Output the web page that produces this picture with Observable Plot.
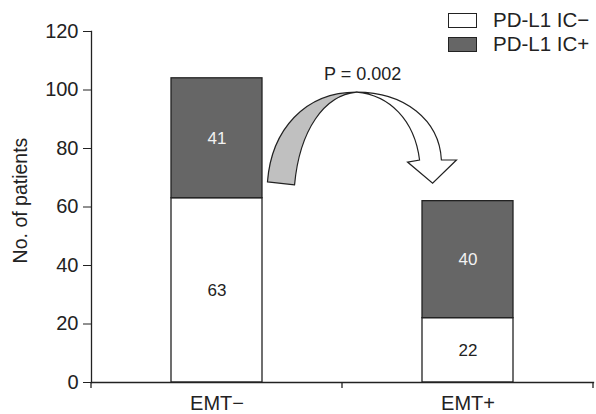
<!DOCTYPE html>
<html><head><meta charset="utf-8">
<script src="https://cdn.jsdelivr.net/npm/d3@7"></script>
<script src="https://cdn.jsdelivr.net/npm/@observablehq/plot@0.6"></script>
<style>
body{margin:0;background:#fff;font-family:"Liberation Sans",Arial,sans-serif;}
#wrap{position:relative;width:596px;height:414px;}
.legend{position:absolute;left:448px;top:8px;font-size:20.5px;color:#222;}
.legend .row{display:flex;align-items:center;height:24px;}
.legend .sw{width:29px;height:15px;border:1.4px solid #222;margin-right:16px;box-sizing:border-box;}
</style></head><body><div id="wrap"></div>
<script>
const groups = ["EMT−", "EMT+"];
const statuses = ["PD-L1 IC−", "PD-L1 IC+"];
const negCounts = [63, 22];
const posCounts = [41, 40];
const yTicks = [0, 20, 40, 60, 80, 100, 120];
const yLabel = "No. of patients";
const pLabel = "P = 0.002";
const colors = ["#ffffff", "#666666"];
const arrowGray = "#c0c0c0";
const ink = "#222222";

const data = groups.flatMap((g, i) => [
  {group: g, status: statuses[0], count: negCounts[i]},
  {group: g, status: statuses[1], count: posCounts[i]}
]);

const W = 596, H = 414, mL = 91, mR = 3, mT = 31, mB = 32;
const barInset = 80;
const FF = "'Liberation Sans', Arial, sans-serif";
const FS = 20;

const plot = Plot.plot({
  width: W, height: H,
  marginLeft: mL, marginRight: mR, marginTop: mT, marginBottom: mB,
  style: {fontFamily: FF, fontSize: "17px", color: ink, background: "white"},
  x: {domain: groups, paddingInner: 0, paddingOuter: 0},
  y: {domain: [0, 120], ticks: yTicks},
  color: {domain: statuses, range: colors},
  marks: [
    Plot.barY(data, {x: "group", y: "count", fill: "status", stroke: ink, strokeWidth: 1.3, insetLeft: barInset, insetRight: barInset, order: statuses}),
    Plot.text(data, Plot.stackY({x: "group", y: "count", text: "count", z: "status", order: statuses, fill: (d) => d.status === statuses[1] ? "#f2f2f2" : ink, fontSize: 17})),
    Plot.axisY({ticks: yTicks, tickSize: 8, tickPadding: 5, label: null}),
    Plot.axisX({tickSize: 0, tickPadding: 13, label: null}),
    Plot.frame({anchor: "left", stroke: ink, strokeWidth: 1.3}),
    Plot.frame({anchor: "bottom", stroke: ink, strokeWidth: 1.3})
  ]
});

const svg = d3.select(plot);
svg.selectAll('g[aria-label="y-axis tick label"], g[aria-label="x-axis tick label"]')
  .style("font-size", FS + "px").attr("font-size", FS)
  .selectAll("text").style("font-size", FS + "px");
const sx = plot.scale("x"), sy = plot.scale("y");
const bw = sx.bandwidth;
const c0 = sx.apply(groups[0]) + bw / 2, c1 = sx.apply(groups[1]) + bw / 2;
const px = (u) => c0 + u * (c1 - c0);
const py = (v) => sy.apply(v);

// y-axis title
svg.append("text")
  .attr("transform", `translate(27,${py(60) - 6}) rotate(-90)`)
  .attr("text-anchor", "middle").style("font-size", "19.5px").style("font-family", FF).attr("fill", ink).text(yLabel);

// band-edge ticks on x axis
const edges = [sx.apply(groups[0]), sx.apply(groups[1]), sx.apply(groups[1]) + bw];
svg.append("g").selectAll("line").data(edges).join("line")
  .attr("x1", d => d).attr("x2", d => d)
  .attr("y1", py(0)).attr("y2", py(0) + 6)
  .attr("stroke", ink).attr("stroke-width", 1.3);

// curved arrow (u: fraction between group centers, v: data units)
const P = [0.558, 99.1];
const pt = (a) => `${px(a[0])},${py(a[1])}`;
const grayPath = `M${pt([0.203,68.4])} C${pt([0.219,86.2])} ${pt([0.351,99.1])} ${pt(P)} C${pt([0.430,98.1])} ${pt([0.331,86.2])} ${pt([0.311,67.4])} Z`;
const whitePath = `M${pt(P)} C${pt([0.749,99.1])} ${pt([0.888,89.6])} ${pt([0.896,75.9])} L${pt([0.956,75.9])} L${pt([0.861,68.0])} L${pt([0.761,75.2])} L${pt([0.809,75.9])} C${pt([0.789,89.6])} ${pt([0.689,98.1])} ${pt(P)} Z`;
const ag = svg.append("g");
ag.append("path").attr("d", grayPath).attr("fill", arrowGray).attr("stroke", ink).attr("stroke-width", 1.2).attr("stroke-linejoin", "round");
ag.append("path").attr("d", whitePath).attr("fill", "white").attr("stroke", ink).attr("stroke-width", 1.2).attr("stroke-linejoin", "miter");
ag.append("text").attr("x", px(0.582)).attr("y", py(103.3)).attr("text-anchor", "middle").style("font-size", "18px").style("font-family", FF).attr("fill", ink).text(pLabel);

const wrap = document.getElementById("wrap");
wrap.appendChild(plot);
const lg = document.createElement("div");
lg.className = "legend";
statuses.forEach((s, i) => {
  const r = document.createElement("div"); r.className = "row";
  const sw = document.createElement("div"); sw.className = "sw"; sw.style.background = colors[i];
  const t = document.createElement("span"); t.textContent = s;
  r.appendChild(sw); r.appendChild(t); lg.appendChild(r);
});
wrap.appendChild(lg);
</script>
</body></html>
